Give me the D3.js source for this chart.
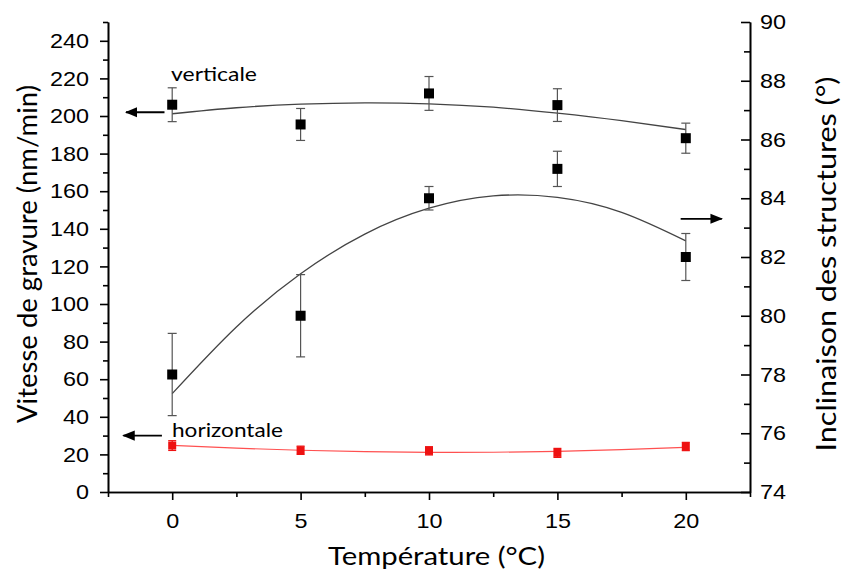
<!DOCTYPE html>
<html><head><meta charset="utf-8">
<script src="https://cdn.jsdelivr.net/npm/d3@7"></script>
<style>body{margin:0;background:#fff}svg{display:block}</style>
</head><body>
<script>
// ---- data ----
const temps = [0, 5, 10, 15, 20];
const vertVals = [206, 195.5, 212, 205.8, 188.2];
const vertErr = [9, 8.5, 9, 8.7, 8];
const inclVals = [78.0, 80.0, 84.0, 85.0, 82.0];
const inclErr = [1.4, 1.4, 0.4, 0.6, 0.8];
const horizVals = [24.7, 22.2, 21.9, 20.8, 24.2];
const horizErr = [2.6, 2.2, 2.2, 2.4, 2.2];
const fitX = [0, 2.5, 5, 7.5, 10, 12.5, 15, 17.5, 20];
const vertFit = [201.2, 204.4, 206.3, 207.0, 206.5, 204.7, 201.5, 197.5, 192.8];
const inclFit = [77.35, 79.62, 81.43, 82.78, 83.66, 84.08, 84.03, 83.52, 82.55];
const horizFit = [24.8, 23.3, 22.2, 21.45, 21.1, 21.15, 21.6, 22.5, 23.8];
const xMajor = [0, 5, 10, 15, 20];
const xMinor = [-2.5, 2.5, 7.5, 12.5, 17.5, 22.5];
const leftMajor = [0, 20, 40, 60, 80, 100, 120, 140, 160, 180, 200, 220, 240];
const leftMinor = [10, 30, 50, 70, 90, 110, 130, 150, 170, 190, 210, 230, 250];
const rightMajor = [74, 76, 78, 80, 82, 84, 86, 88, 90];
const rightMinor = [75, 77, 79, 81, 83, 85, 87, 89];

const W = 842, H = 577;
const L = 108, R = 750, T = 22, B = 492;
const svg = d3.select("body").append("svg").attr("width", W).attr("height", H);

const x = d3.scaleLinear().domain([-2.5, 22.5]).range([L, R]);
const yL = d3.scaleLinear().domain([0, 250]).range([B, T]);
const yR = d3.scaleLinear().domain([74, 90]).range([B, T]);

const tickFont = "'Liberation Sans', Arial, sans-serif";
const titleFont = "Lato, 'Open Sans', sans-serif";

function styleAxis(g) {
  g.selectAll("path.domain").attr("stroke", "#000").attr("stroke-width", 1.6);
  g.selectAll(".tick line").attr("stroke", "#000").attr("stroke-width", 1.6);
  g.selectAll(".tick text").attr("font-family", tickFont).attr("font-size", 21).attr("fill", "#000")
    .attr("textLength", d => String(d).length * 13).attr("lengthAdjust", "spacingAndGlyphs");
}

// minor ticks
svg.append("g").attr("transform", `translate(0,${B})`)
  .call(d3.axisBottom(x).tickValues(xMinor).tickSize(5).tickFormat("").tickSizeOuter(0))
  .call(styleAxis);
svg.append("g").attr("transform", `translate(${L},0)`)
  .call(d3.axisLeft(yL).tickValues(leftMinor).tickSize(5).tickFormat("").tickSizeOuter(0))
  .call(styleAxis);
svg.append("g").attr("transform", `translate(${R},0)`)
  .call(d3.axisLeft(yR).tickValues(rightMinor).tickSize(6).tickFormat("").tickSizeOuter(0))
  .call(styleAxis);

// major axes
svg.append("g").attr("transform", `translate(0,${B})`)
  .call(d3.axisBottom(x).tickValues(xMajor).tickSize(8).tickPadding(13).tickSizeOuter(0))
  .call(styleAxis);
svg.append("g").attr("transform", `translate(${L},0)`)
  .call(d3.axisLeft(yL).tickValues(leftMajor).tickSize(8).tickPadding(11).tickSizeOuter(0))
  .call(styleAxis);
const gr = svg.append("g").attr("transform", `translate(${R},0)`)
  .call(d3.axisLeft(yR).tickValues(rightMajor).tickSize(9).tickSizeOuter(0))
  .call(styleAxis);
gr.selectAll(".tick text").attr("text-anchor", "start").attr("x", 10);

// fit lines
const line = (ys, sc) => d3.line().x((d, i) => x(fitX[i])).y(d => sc(d)).curve(d3.curveNatural)(ys);
svg.append("path").attr("d", line(vertFit, yL)).attr("fill", "none").attr("stroke", "#444").attr("stroke-width", 1.3);
svg.append("path").attr("d", line(inclFit, yR)).attr("fill", "none").attr("stroke", "#444").attr("stroke-width", 1.3);
svg.append("path").attr("d", line(horizFit, yL)).attr("fill", "none").attr("stroke", "#ff5050").attr("stroke-width", 1.2);

// error bars + markers
function series(vals, errs, sc, color, barColor, size, cap) {
  const g = svg.append("g");
  temps.forEach((t, i) => {
    const cx = x(t), y0 = sc(vals[i] - errs[i]), y1 = sc(vals[i] + errs[i]);
    g.append("line").attr("x1", cx).attr("x2", cx).attr("y1", y0).attr("y2", y1).attr("stroke", barColor).attr("stroke-width", 1.2);
    [y0, y1].forEach(yy => g.append("line").attr("x1", cx - cap).attr("x2", cx + cap).attr("y1", yy).attr("y2", yy).attr("stroke", barColor).attr("stroke-width", 1.2));
    g.append("rect").attr("x", cx - size / 2).attr("y", sc(vals[i]) - size / 2).attr("width", size).attr("height", size).attr("fill", color);
  });
}
series(vertVals, vertErr, yL, "#000", "#555", 10, 4.5);
series(inclVals, inclErr, yR, "#000", "#555", 10, 4.5);
series(horizVals, horizErr, yL, "#ee1111", "#ee1111", 8, 4);

// arrows
const defs = svg.append("defs");
defs.append("marker").attr("id", "ah").attr("viewBox", "0 0 10 10").attr("refX", 9).attr("refY", 5)
  .attr("markerWidth", 7).attr("markerHeight", 7).attr("orient", "auto")
  .append("path").attr("d", "M0,1 L10,5 L0,9 Z").attr("fill", "#000");
function arrow(x1, y1, x2, y2) {
  svg.append("line").attr("x1", x1).attr("y1", y1).attr("x2", x2).attr("y2", y2)
    .attr("stroke", "#000").attr("stroke-width", 1.8).attr("marker-end", "url(#ah)");
}
arrow(x(-0.3), yL(202), x(-1.8), yL(202));
arrow(x(19.8), yR(83.3), x(21.4), yR(83.3));
arrow(x(-0.4), yL(30), x(-1.9), yL(30));

function label(t, px, py, size, len) {
  svg.append("text").attr("x", px).attr("y", py).attr("font-family", titleFont).attr("font-size", size)
    .attr("textLength", len).attr("lengthAdjust", "spacingAndGlyphs").text(t);
}
label("verticale", 171, 81, 19, 86);
label("horizontale", 172, 437, 19, 111);

// titles
svg.append("text").attr("x", 436.5).attr("y", 565).attr("text-anchor", "middle")
  .attr("font-family", titleFont).attr("font-size", 25)
  .attr("textLength", 217).attr("lengthAdjust", "spacingAndGlyphs").text("Température (°C)");
svg.append("text").attr("transform", `translate(37,254) rotate(-90)`).attr("text-anchor", "middle")
  .attr("font-family", titleFont).attr("font-size", 27)
  .attr("textLength", 338).attr("lengthAdjust", "spacingAndGlyphs").text("Vitesse de gravure (nm/min)");
svg.append("text").attr("transform", `translate(836,264) rotate(-90)`).attr("text-anchor", "middle")
  .attr("font-family", titleFont).attr("font-size", 27)
  .attr("textLength", 375).attr("lengthAdjust", "spacingAndGlyphs").text("Inclinaison des structures (°)");
</script>
</body></html>
